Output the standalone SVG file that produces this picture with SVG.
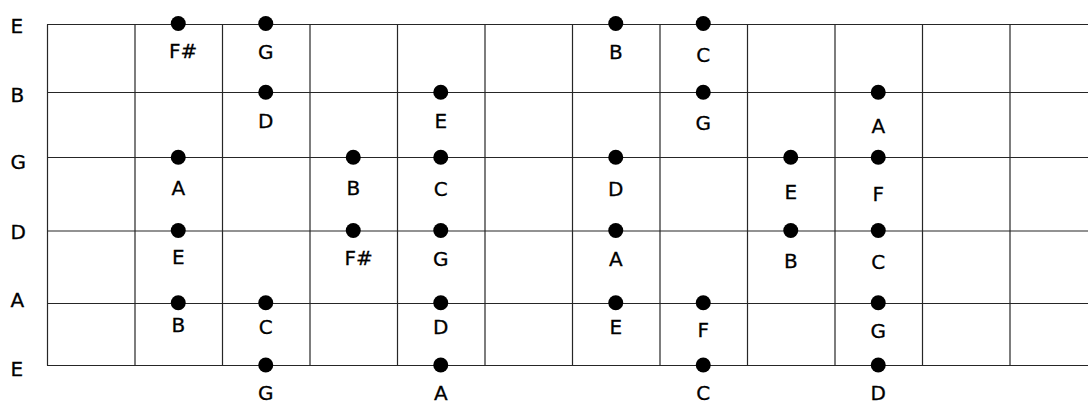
<svg xmlns="http://www.w3.org/2000/svg" width="1088" height="405" viewBox="0 0 1088 405">
<style>
.grid line{stroke:#262626;stroke-width:1.2}
.dot{fill:#000}
text{font-family:"DejaVu Sans","Noto Sans",sans-serif;font-size:20px;fill:#000;stroke:#000;stroke-width:0.3}
.lbl{text-anchor:middle}
</style>
<rect width="1088" height="405" fill="#fff"/>
<g id="fretboard" class="grid">
<line x1="47" y1="24.5" x2="1088" y2="24.5"/>
<line x1="47" y1="92.5" x2="1088" y2="92.5"/>
<line x1="47" y1="157.5" x2="1088" y2="157.5"/>
<line x1="47" y1="231" x2="1088" y2="231"/>
<line x1="47" y1="303.5" x2="1088" y2="303.5"/>
<line x1="47" y1="365.5" x2="1088" y2="365.5"/>
<line x1="47.5" y1="24.5" x2="47.5" y2="365.5"/>
<line x1="135" y1="24.5" x2="135" y2="365.5"/>
<line x1="222.5" y1="24.5" x2="222.5" y2="365.5"/>
<line x1="310" y1="24.5" x2="310" y2="365.5"/>
<line x1="397.5" y1="24.5" x2="397.5" y2="365.5"/>
<line x1="485" y1="24.5" x2="485" y2="365.5"/>
<line x1="572.5" y1="24.5" x2="572.5" y2="365.5"/>
<line x1="660" y1="24.5" x2="660" y2="365.5"/>
<line x1="747.5" y1="24.5" x2="747.5" y2="365.5"/>
<line x1="835" y1="24.5" x2="835" y2="365.5"/>
<line x1="922.5" y1="24.5" x2="922.5" y2="365.5"/>
<line x1="1010" y1="24.5" x2="1010" y2="365.5"/>
</g>
<g id="string-labels">
<text x="10.5" y="32.7">E</text>
<text x="10.5" y="101.7">B</text>
<text x="10.5" y="168.7">G</text>
<text x="10.5" y="239.3">D</text>
<text x="10.5" y="306.7">A</text>
<text x="10.5" y="376">E</text>
</g>
<g id="connectors"></g>
<!-- high E string -->
<g id="n-e1-fs"><circle class="dot" cx="178.25" cy="23.5" r="7.5"/><text x="169" y="58.3">F#</text></g>
<g id="n-e1-g"><circle class="dot" cx="265.75" cy="23.5" r="7.5"/><text class="lbl" x="265.75" y="58.8">G</text></g>
<g id="n-e1-b"><circle class="dot" cx="615.75" cy="23.5" r="7.5"/><text class="lbl" x="615.75" y="59.3">B</text></g>
<g id="n-e1-c"><circle class="dot" cx="703.25" cy="23.5" r="7.5"/><text class="lbl" x="703.25" y="61.6">C</text></g>
<!-- B string -->
<g id="n-b-d"><circle class="dot" cx="265.75" cy="92.2" r="7.5"/><text class="lbl" x="265.75" y="128.2">D</text></g>
<g id="n-b-e"><circle class="dot" cx="440.75" cy="92.2" r="7.5"/><text class="lbl" x="440.75" y="128.3">E</text></g>
<g id="n-b-g"><circle class="dot" cx="703.25" cy="92.2" r="7.5"/><text class="lbl" x="703.25" y="130.4">G</text></g>
<g id="n-b-a"><circle class="dot" cx="878.25" cy="92.2" r="7.5"/><text class="lbl" x="878.25" y="132.7">A</text></g>
<!-- G string -->
<g id="n-g-a"><circle class="dot" cx="178.25" cy="157.3" r="7.5"/><text class="lbl" x="178.25" y="195">A</text></g>
<g id="n-g-b"><circle class="dot" cx="353.25" cy="157.3" r="7.5"/><text class="lbl" x="353.25" y="195">B</text></g>
<g id="n-g-c"><circle class="dot" cx="440.75" cy="157.3" r="7.5"/><text class="lbl" x="440.75" y="195.6">C</text></g>
<g id="n-g-d"><circle class="dot" cx="615.75" cy="157.3" r="7.5"/><text class="lbl" x="615.75" y="196">D</text></g>
<g id="n-g-e"><circle class="dot" cx="790.75" cy="157.3" r="7.5"/><text class="lbl" x="790.75" y="199.3">E</text></g>
<g id="n-g-f"><circle class="dot" cx="878.25" cy="157.3" r="7.5"/><text class="lbl" x="878.25" y="201">F</text></g>
<!-- D string -->
<g id="n-d-e"><circle class="dot" cx="178.25" cy="230.5" r="7.5"/><text class="lbl" x="178.25" y="264">E</text></g>
<g id="n-d-fs"><circle class="dot" cx="353.25" cy="230.5" r="7.5"/><text x="344.5" y="265">F#</text></g>
<g id="n-d-g"><circle class="dot" cx="440.75" cy="230.5" r="7.5"/><text class="lbl" x="440.75" y="265.6">G</text></g>
<g id="n-d-a"><circle class="dot" cx="615.75" cy="230.5" r="7.5"/><text class="lbl" x="615.75" y="266">A</text></g>
<g id="n-d-b"><circle class="dot" cx="790.75" cy="230.5" r="7.5"/><text class="lbl" x="790.75" y="268.3">B</text></g>
<g id="n-d-c"><circle class="dot" cx="878.25" cy="230.5" r="7.5"/><text class="lbl" x="878.25" y="269">C</text></g>
<!-- A string -->
<g id="n-a-b"><circle class="dot" cx="178.25" cy="302.8" r="7.5"/><text class="lbl" x="178.25" y="331.7">B</text></g>
<g id="n-a-c"><circle class="dot" cx="265.75" cy="302.8" r="7.5"/><text class="lbl" x="265.75" y="333.7">C</text></g>
<g id="n-a-d"><circle class="dot" cx="440.75" cy="302.8" r="7.5"/><text class="lbl" x="440.75" y="334">D</text></g>
<g id="n-a-e"><circle class="dot" cx="615.75" cy="302.8" r="7.5"/><text class="lbl" x="615.75" y="334">E</text></g>
<g id="n-a-f"><circle class="dot" cx="703.25" cy="302.8" r="7.5"/><text class="lbl" x="703.25" y="336.7">F</text></g>
<g id="n-a-g"><circle class="dot" cx="878.25" cy="302.8" r="7.5"/><text class="lbl" x="878.25" y="337.8">G</text></g>
<!-- low E string -->
<g id="n-e6-g"><circle class="dot" cx="265.75" cy="365" r="7.5"/><text class="lbl" x="265.75" y="400">G</text></g>
<g id="n-e6-a"><circle class="dot" cx="440.75" cy="365" r="7.5"/><text class="lbl" x="440.75" y="400">A</text></g>
<g id="n-e6-c"><circle class="dot" cx="703.25" cy="365" r="7.5"/><text class="lbl" x="703.25" y="400">C</text></g>
<g id="n-e6-d"><circle class="dot" cx="878.25" cy="365" r="7.5"/><text class="lbl" x="878.25" y="400">D</text></g>
</svg>
